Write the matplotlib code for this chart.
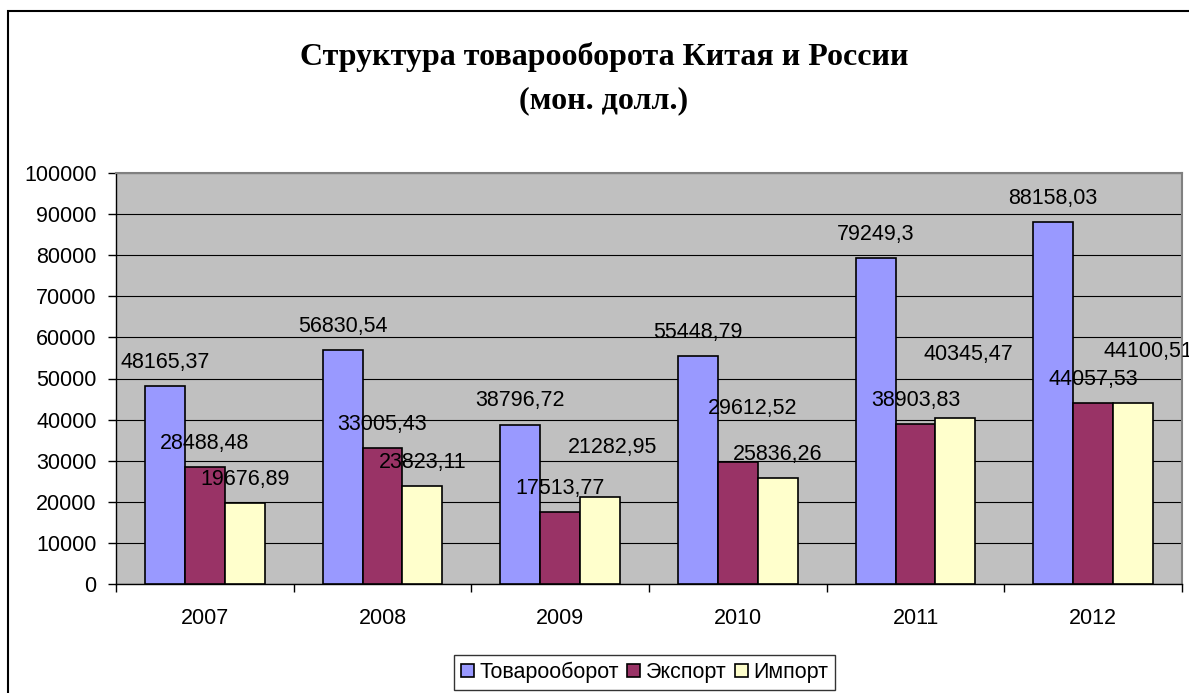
import matplotlib
matplotlib.use("Agg")
import matplotlib.pyplot as plt
import numpy as np
from matplotlib.patches import Rectangle

# --- data ---------------------------------------------------------------
years = ["2007", "2008", "2009", "2010", "2011", "2012"]
turnover = [48165.37, 56830.54, 38796.72, 55448.79, 79249.3, 88158.03]
export = [28488.48, 33005.43, 17513.77, 29612.52, 38903.83, 44057.53]
imports = [19676.89, 23823.11, 21282.95, 25836.26, 40345.47, 44100.51]

turnover_lbl = ["48165,37", "56830,54", "38796,72", "55448,79", "79249,3", "88158,03"]
export_lbl = ["28488,48", "33005,43", "17513,77", "29612,52", "38903,83", "44057,53"]
imports_lbl = ["19676,89", "23823,11", "21282,95", "25836,26", "40345,47", "44100,51"]

series_names = ["Товарооборот", "Экспорт", "Импорт"]
colors = ["#9999FF", "#993366", "#FFFFCC"]

# label nudges in points (some labels were moved by hand in the original)
export_dx = [0, 0, 0, 11, 0, 0]
export_dy = [17, 17, 17, 39, 17, 17]
imports_dx = [0, 0, 9, 0, 9, 11]
imports_dy = [17, 17, 35, 17, 46, 37]

plt.rcParams["font.family"] = ["Liberation Sans", "DejaVu Sans"]
FS = 15.5

fig = plt.figure(figsize=(11.89, 6.93), dpi=100)
ax = fig.add_axes([116 / 1189, 1 - 584 / 693, (1182 - 116) / 1189, (584 - 173) / 693])
ax.set_facecolor("#C0C0C0")

x = np.arange(len(years))
w = 0.225
series = [turnover, export, imports]
labels = [turnover_lbl, export_lbl, imports_lbl]
dxs = [[0] * 6, export_dx, imports_dx]
dys = [[17] * 6, export_dy, imports_dy]

for i, (vals, col, name) in enumerate(zip(series, colors, series_names)):
    xs = x + (i - 1) * w
    ax.bar(xs, vals, width=w, color=col, edgecolor="black", linewidth=1.2,
           label=name, zorder=3)
    for xx, v, t, dx, dy in zip(xs, vals, labels[i], dxs[i], dys[i]):
        ax.annotate(t, (xx, v), xytext=(dx, dy), textcoords="offset points",
                    ha="center", va="center", fontsize=FS, zorder=4,
                    annotation_clip=False)

ax.set_xlim(-0.5, 5.5)
ax.set_ylim(0, 100000)
ax.set_yticks(np.arange(0, 100001, 10000))
ax.yaxis.grid(True, color="black", lw=0.8, zorder=0)
ax.set_axisbelow(True)

ax.set_xticks(x)
ax.set_xticklabels(years)
ax.set_xticks(np.arange(-0.5, 6, 1), minor=True)
ax.tick_params(axis="x", which="major", length=0, pad=17, labelsize=FS)
ax.tick_params(axis="x", which="minor", length=6, width=1, direction="out")
ax.tick_params(axis="y", length=6, width=1, direction="out", pad=8, labelsize=FS)

for s in ["left", "bottom"]:
    ax.spines[s].set_color("black")
    ax.spines[s].set_linewidth(1)
for s in ["top", "right"]:
    ax.spines[s].set_color("#808080")
    ax.spines[s].set_linewidth(1.5)

# title
fig.text(604 / 1189, 1 - 57 / 693, "Структура товарооборота Китая и России",
         ha="center", va="center", fontsize=23, fontweight="bold",
         family=["Liberation Serif", "DejaVu Serif"])
fig.text(604 / 1189, 1 - 101 / 693, "(мон. долл.)",
         ha="center", va="center", fontsize=23, fontweight="bold",
         family=["Liberation Serif", "DejaVu Serif"])

# legend
leg = fig.legend(loc="center", bbox_to_anchor=(644.5 / 1189, 1 - 672.5 / 693),
                 ncol=3, fontsize=FS, frameon=True, fancybox=False,
                 handlelength=0.6, handleheight=0.6, handletextpad=0.25,
                 columnspacing=0.4, borderpad=0.3, borderaxespad=0)
leg.get_frame().set_edgecolor("black")
leg.get_frame().set_linewidth(1)

# outer chart frame
fig.patches.append(Rectangle((8 / 1189, -0.05), 1.2, 1 - 11 / 693 + 0.05,
                             transform=fig.transFigure, fill=False,
                             edgecolor="black", lw=1.5))

fig.savefig("out.png", dpi=100, facecolor="white")
